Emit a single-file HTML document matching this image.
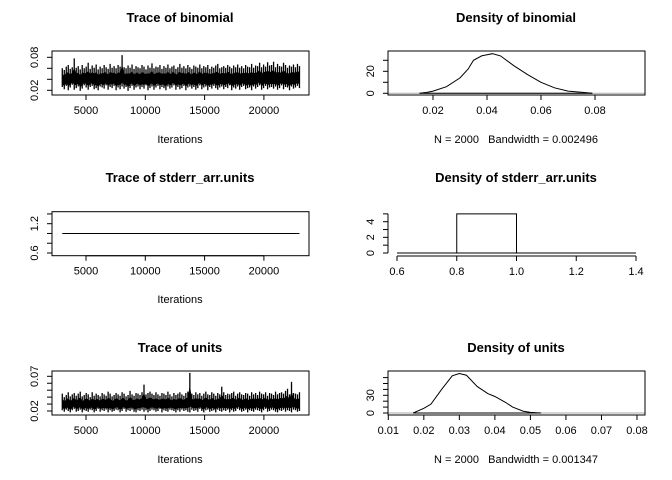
<!DOCTYPE html>
<html><head><meta charset="utf-8"><style>
html,body{margin:0;padding:0;background:#fff;}
svg{display:block;font-family:"Liberation Sans",Arial,sans-serif;}
.t{font-weight:bold;font-size:13px;}
.l{font-size:11px;white-space:pre;}
</style></head><body>
<svg id="c" width="672" height="480" viewBox="0 0 672 480" xmlns="http://www.w3.org/2000/svg"></svg>
<script>
// ---- data (per-bin min / max of trace, thousandths) ----
const binomLo = [26,22,28,20,25,30,21,24,27,19,23,29,25,21,26,28,22,24,20,27,25,23,29,21,26,24,28,20,25,22,27,23,26,19,24,28,21,25,27,22,26,23,29,20,24,27,21,25,28,22,26,24,20,27,23,25,29,21,26,22,24,28,20,25,27,23,26,21,24,29,22,25,27,20,26,23,28,24,21,25,27,22,26,24,29,20,25,23,27,21,26,28,22,24,25,20,27,23,26,29,21,24,28,22,25,26,23,27,21,24,29,22,26,25,20,27,23,25,28,24];
const binomHi = [60,57,63,66,59,62,78,61,64,58,66,60,63,70,59,65,61,67,58,63,60,66,62,59,68,61,64,60,66,63,84,62,60,65,61,67,59,64,62,60,66,63,58,65,61,69,60,63,62,66,59,64,61,67,60,63,65,59,62,68,61,64,60,66,62,59,65,63,61,67,60,64,62,66,59,63,61,65,68,60,62,64,61,66,63,60,65,62,67,61,64,60,66,63,62,68,61,65,64,70,62,67,63,71,65,66,72,62,68,64,63,70,66,61,65,63,67,62,68,64];
const unitsLo = [21,19,22,20,18,21,23,19,20,22,18,21,20,19,22,21,18,20,23,19,21,20,22,18,21,19,20,22,21,18,20,23,19,21,20,22,19,18,21,20,22,19,21,18,20,22,21,19,20,23,18,21,20,19,22,21,20,18,21,19,22,20,21,19,18,22,20,21,19,23,20,18,21,22,19,20,21,18,22,20,19,21,20,22,18,21,19,20,23,21,19,20,22,18,21,20,19,22,21,20,18,21,23,19,20,22,21,19,18,21,20,22,19,21,20,18,22,21,19,20];
const unitsHi = [45,40,43,47,41,44,46,42,45,48,41,43,46,44,40,47,42,45,43,41,46,44,42,48,45,41,43,46,44,42,47,45,41,43,49,44,42,46,45,43,47,58,44,46,48,45,43,47,44,42,46,45,43,48,44,41,46,43,45,47,44,42,46,48,75,45,43,47,44,46,42,45,48,44,43,47,45,42,46,44,55,47,43,45,44,46,48,42,45,47,44,43,46,45,42,47,44,46,43,48,45,44,47,42,46,45,43,48,44,46,47,45,49,52,44,62,46,45,44,47];
const binomDensX = [0.015,0.018,0.02,0.025,0.03,0.033,0.035,0.038,0.04,0.042,0.045,0.05,0.055,0.06,0.065,0.07,0.075,0.079];
const binomDensY = [0,1,2,6,14,22,30,34,35,36,34,25,17,10,5,2,1,0];
const unitsDensX = [0.017,0.02,0.022,0.025,0.028,0.03,0.032,0.035,0.038,0.04,0.043,0.045,0.048,0.05,0.053];
const unitsDensY = [0,8,15,40,63,67,64,45,33,28,18,10,3,1,0];
const stderrValue = 1.0;
const stderrBinLo = [0.8];
const stderrBinHi = [1.0];
const stderrBinH = [5];
const iterTicks = [5000,10000,15000,20000];
// ---- helpers ----
const NS="http://www.w3.org/2000/svg", svg=document.getElementById('c');
function mk(tag,attrs,txt){const e=document.createElementNS(NS,tag);for(const k in attrs)e.setAttribute(k,attrs[k]);if(txt!==undefined)e.textContent=txt;svg.appendChild(e);return e;}
function lin(d0,d1,r0,r1){return v=>r0+(v-d0)*(r1-r0)/(d1-d0);}
const ix=lin(0,5000,26.7,86);
function xAxis(sc,ticks,labels,y,name){
  let a=mk('line',{x1:sc(ticks[0]),x2:sc(ticks[ticks.length-1]),y1:y,y2:y,stroke:'#000'});
  
  ticks.forEach((t,i)=>{mk('line',{x1:sc(t),x2:sc(t),y1:y,y2:y+5,stroke:'#000'});
    if(labels[i]){let e=mk('text',{x:sc(t),y:y+19,'text-anchor':'middle',class:'l'},labels[i]);
    }});
}
function yAxis(sc,ticks,labels,x,name){
  let a=mk('line',{x1:x,x2:x,y1:sc(ticks[0]),y2:sc(ticks[ticks.length-1]),stroke:'#000'});
  
  ticks.forEach((t,i)=>{mk('line',{x1:x,x2:x-5,y1:sc(t),y2:sc(t),stroke:'#000'});
    if(labels[i]){let e=mk('text',{x:0,y:0,transform:`translate(${x-14},${sc(t)}) rotate(-90)`,'text-anchor':'middle',class:'l'},labels[i]);
    }});
}
function box(x0,y0,x1,y1,name){let b=mk('rect',{x:x0,y:y0,width:x1-x0,height:y1-y0,fill:'none',stroke:'#000'});
  }
function title(x,y,s,name){let e=mk('text',{x:x,y:y,'text-anchor':'middle',class:'t'},s);
  }
function sub(x,y,s,name){let e=mk('text',{x:x,y:y,'text-anchor':'middle',class:'l'},s);
  }
function trace(lo,hi,sy,name){const n=lo.length;let d='';
  for(let i=0;i<n;i++){const x=ix(3000+i*20000/(n-1)).toFixed(2);
    d+='M'+x+','+sy(lo[i]/1000).toFixed(2)+' V'+sy(hi[i]/1000).toFixed(2)+' ';}
  let p=mk('path',{d:d,fill:'none',stroke:'#000','stroke-width':1.3});
  
  const core=[];for(let i=0;i<n;i++){const x=ix(3000+i*20000/(n-1));core.push([x,sy((lo[i]+(hi[i]-lo[i])*0.15)/1000),sy((hi[i]-(hi[i]-lo[i])*0.3)/1000)]);}
  const c='M'+core.map(q=>q[0].toFixed(2)+','+q[1].toFixed(2)).join(' L')+' L'+core.slice().reverse().map(q=>q[0].toFixed(2)+','+q[2].toFixed(2)).join(' L')+'Z';
  let q=mk('path',{d:c,fill:'#000'});
  }
function dens(xs,ys,sx,sy,name){const pts=xs.map((v,i)=>sx(v).toFixed(2)+','+sy(ys[i]).toFixed(2)).join(' ');
  let p=mk('polyline',{points:pts,fill:'none',stroke:'#000','stroke-width':1});
  }
const L0=52,L1=309,R0=388,R1=645;
// ---- row 1 left ----
title(180,22,'Trace of binomial','trace-binomial');
const by1=lin(0.02,0.08,90.3,57.3);
trace(binomLo,binomHi,by1,'trace-binomial-line');
box(L0,51,L1,95,'trace-binomial');
xAxis(ix,iterTicks,['5000','10000','15000','20000'],95,'trace-binomial');
yAxis(by1,[0.02,0.04,0.06,0.08],['0.02','','','0.08'],L0,'trace-binomial');
sub(180,143,'Iterations','trace-binomial-x-title');
// ---- row 1 right ----
title(516,22,'Density of binomial','density-binomial');
const bdx=lin(0.02,0.08,433,595), bdy=lin(0,20,93.3,71.3);
mk('line',{x1:R0,x2:R1,y1:bdy(0),y2:bdy(0),stroke:'#aaa'});
mk('line',{x1:bdx(0.015),x2:bdx(0.079),y1:bdy(0),y2:bdy(0),stroke:'#000'});
dens(binomDensX,binomDensY,bdx,bdy,'density-binomial-curve');
box(R0,51,R1,95,'density-binomial');
xAxis(bdx,[0.02,0.04,0.06,0.08],['0.02','0.04','0.06','0.08'],95,'density-binomial');
yAxis(bdy,[0,10,20,30],['0','','20',''],R0,'density-binomial');
sub(516,143,'N = 2000   Bandwidth = 0.002496','density-binomial-caption');
// ---- row 2 left ----
title(180,182,'Trace of stderr_arr.units','trace-stderr');
const sy2=lin(0.6,1.2,253,223.7);
let sl=mk('line',{x1:ix(3000),x2:ix(23000),y1:sy2(stderrValue),y2:sy2(stderrValue),stroke:'#000'});

box(L0,211.7,L1,255.7,'trace-stderr');
xAxis(ix,iterTicks,['5000','10000','15000','20000'],255.7,'trace-stderr');
yAxis(sy2,[0.6,0.8,1.0,1.2,1.4],['0.6','','','1.2',''],L0,'trace-stderr');
sub(180,303,'Iterations','trace-stderr-x-title');
// ---- row 2 right ----
title(516,182,'Density of stderr_arr.units','density-stderr');
const sdx=lin(0.6,1.4,397,636), sdy=lin(0,4,253,221.7);
mk('line',{x1:sdx(0.6),x2:sdx(1.4),y1:sdy(0),y2:sdy(0),stroke:'#000'});
stderrBinLo.forEach((lo,i)=>{let r=mk('rect',{x:sdx(lo),y:sdy(stderrBinH[i]),width:sdx(stderrBinHi[i])-sdx(lo),height:sdy(0)-sdy(stderrBinH[i]),fill:'none',stroke:'#000'});
  });
xAxis(sdx,[0.6,0.8,1.0,1.2,1.4],['0.6','0.8','1.0','1.2','1.4'],256,'density-stderr');
yAxis(sdy,[0,1,2,3,4,5],['0','','2','','4',''],R0,'density-stderr');
// ---- row 3 left ----
title(180,352,'Trace of units','trace-units');
const uy=lin(0.02,0.07,411,376.3);
trace(unitsLo,unitsHi,uy,'trace-units-line');
box(L0,371,L1,415,'trace-units');
xAxis(ix,iterTicks,['5000','10000','15000','20000'],415,'trace-units');
yAxis(uy,[0.02,0.03,0.04,0.05,0.06,0.07],['0.02','','','','','0.07'],L0,'trace-units');
sub(180,463,'Iterations','trace-units-x-title');
// ---- row 3 right ----
title(516,352,'Density of units','density-units');
const udx=lin(0.01,0.08,388.3,637), udy=lin(0,30,413,395.3);
mk('line',{x1:R0,x2:R1,y1:udy(0),y2:udy(0),stroke:'#aaa'});
mk('line',{x1:udx(0.017),x2:udx(0.053),y1:udy(0),y2:udy(0),stroke:'#000'});
dens(unitsDensX,unitsDensY,udx,udy,'density-units-curve');
box(R0,371,R1,415,'density-units');
xAxis(udx,[0.01,0.02,0.03,0.04,0.05,0.06,0.07,0.08],['0.01','0.02','0.03','0.04','0.05','0.06','0.07','0.08'],415,'density-units');
yAxis(udy,[0,10,20,30,40,50,60],['0','','','30','','',''],R0,'density-units');
sub(516,463,'N = 2000   Bandwidth = 0.001347','density-units-caption');
</script>
</body></html>
